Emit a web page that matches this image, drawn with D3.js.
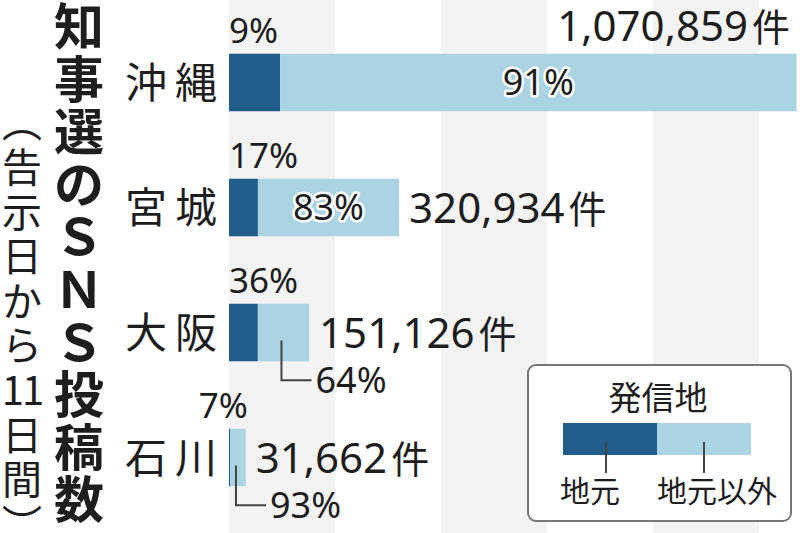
<!DOCTYPE html>
<html>
<head>
<meta charset="utf-8">
<script src="https://cdn.jsdelivr.net/npm/d3@7"></script>
<style>
  html, body { margin: 0; padding: 0; background: #fff; }
  text { font-family: "Noto Sans CJK JP", "Noto Sans", sans-serif; fill: #1e1e1e; }
  .num { font-family: "Noto Sans", "Noto Sans CJK JP", sans-serif; }
</style>
</head>
<body>
<div id="chart"></div>
<script>
// data
var prefectures = ["沖縄", "宮城", "大阪", "石川"];
var totals = [1070859, 320934, 151126, 31662];
var localPct = [9, 17, 36, 7];
var otherPct = [91, 83, 64, 93];
var gridTicks = [0, 200000, 400000, 600000, 800000, 1000000, 1200000];
var titleChars = ["知", "事", "選", "の", "Ｓ", "Ｎ", "Ｓ", "投", "稿", "数"];
var subChars = ["︵", "告", "示", "日", "か", "ら", "11", "日", "間", "︶"];
var legendKeys = ["地元", "地元以外"];

var width = 800, height = 533;
var dark = "#215d8a", light = "#abd4e2";

var svg = d3.select("#chart").append("svg")
  .attr("width", width)
  .attr("height", height);

var x = d3.scaleLinear().domain([0, 1000000]).range([229, 759]);
var y = d3.scaleBand().domain(prefectures)
  .range([20, 520]).paddingInner(0.54).paddingOuter(0.27);

// gray background bands
var bands = d3.pairs(gridTicks).filter(function(d, i) { return i % 2 === 0; });
svg.selectAll("rect.band").data(bands)
  .enter().append("rect")
  .attr("class", "band")
  .attr("x", function(d) { return x(d[0]); })
  .attr("width", function(d) { return Math.min(x(d[1]), width) - x(d[0]); })
  .attr("y", 0)
  .attr("height", height)
  .attr("fill", "#f3f3f3");

// rows
var rows = prefectures.map(function(p, i) {
  var local = totals[i] * localPct[i] / 100;
  return { name: p, total: totals[i], local: local, lp: localPct[i], op: otherPct[i] };
});

var g = svg.selectAll("g.row").data(rows).enter().append("g").attr("class", "row");

g.append("rect")
  .attr("x", x(0))
  .attr("y", function(d) { return y(d.name); })
  .attr("width", function(d) { return x(d.local) - x(0); })
  .attr("height", y.bandwidth())
  .attr("fill", dark);

g.append("rect")
  .attr("x", function(d) { return x(d.local); })
  .attr("y", function(d) { return y(d.name); })
  .attr("width", function(d) { return x(d.total) - x(d.local); })
  .attr("height", y.bandwidth())
  .attr("fill", light);

// category labels
g.append("text")
  .attr("x", 225)
  .attr("y", function(d) { return y(d.name) + y.bandwidth() / 2; })
  .attr("dy", "0.36em")
  .attr("text-anchor", "end")
  .attr("font-size", 42)
  .attr("letter-spacing", "8px")
  .text(function(d) { return d.name; });

// local share above the bar
g.append("text")
  .attr("class", "num")
  .attr("x", function(d) { return (x(d.total) - x(0) < 50) ? x(d.total) + 2 : x(0); })
  .attr("text-anchor", function(d) { return (x(d.total) - x(0) < 50) ? "end" : "start"; })
  .attr("y", function(d) { return y(d.name) - 11; })
  .attr("font-size", 35)
  .text(function(d) { return d.lp + "%"; });

// other share: inside if room, else with a leader line below
g.each(function(d) {
  var sel = d3.select(this);
  var x0 = x(d.local), x1 = x(d.total);
  var cy = y(d.name) + y.bandwidth() / 2;
  if (x1 - x0 > 100) {
    sel.append("text")
      .attr("class", "num")
      .attr("x", (x0 + x1) / 2)
      .attr("y", cy)
      .attr("dy", "0.36em")
      .attr("text-anchor", "middle")
      .attr("font-size", 36)
      .attr("stroke", "#fff")
      .attr("stroke-width", 5)
      .attr("stroke-linejoin", "round")
      .attr("paint-order", "stroke")
      .text(d.op + "%");
  } else {
    var lx = (x0 + x1) / 2 - 2;
    var ly = y(d.name) + y.bandwidth() + 19;
    sel.append("path")
      .attr("d", "M" + lx + "," + (cy + 8) + "V" + ly + "H" + (lx + 30))
      .attr("fill", "none")
      .attr("stroke", "#444")
      .attr("stroke-width", 2);
    sel.append("text")
      .attr("class", "num")
      .attr("x", lx + 34)
      .attr("y", ly)
      .attr("dy", "0.36em")
      .attr("font-size", 36)
      .text(d.op + "%");
  }
});

// totals
g.append("text")
  .attr("class", "num")
  .each(function(d) {
    var t = d3.select(this);
    var cy = y(d.name) + y.bandwidth() / 2;
    if (x(d.total) + 200 > width) {
      t.attr("x", 790).attr("y", y(d.name) - 13).attr("text-anchor", "end");
    } else {
      t.attr("x", x(d.total) + 10).attr("y", cy).attr("dy", "0.36em");
    }
  })
  .attr("font-size", 42)
  .text(function(d) { return d3.format(",")(d.total); })
  .append("tspan")
  .attr("font-family", "Noto Sans CJK JP")
  .attr("dx", 4)
  .attr("font-size", 38)
  .text("件");

// vertical title
svg.selectAll("text.title").data(titleChars)
  .enter().append("text")
  .attr("class", "title")
  .attr("x", 79)
  .attr("y", function(d, i) { return 27 + i * 52.6; })
  .attr("dy", "0.36em")
  .attr("text-anchor", "middle")
  .attr("font-size", 50)
  .attr("font-weight", 700)
  .text(function(d) { return d; });

svg.selectAll("text.sub").data(subChars)
  .enter().append("text")
  .attr("class", "sub")
  .attr("x", 22)
  .attr("y", function(d, i) { return 123 + i * 44.6; })
  .attr("dy", "0.36em")
  .attr("text-anchor", "middle")
  .attr("font-size", 40)
  .attr("letter-spacing", function(d) { return d.length > 1 ? "-2px" : null; })
  .text(function(d) { return d; });

// legend
var lg = svg.append("g");
lg.append("rect")
  .attr("x", 528).attr("y", 365)
  .attr("width", 263).attr("height", 156)
  .attr("rx", 8)
  .attr("fill", "#fff")
  .attr("stroke", "#777")
  .attr("stroke-width", 2);
lg.append("text")
  .attr("x", 658).attr("y", 398)
  .attr("dy", "0.36em")
  .attr("text-anchor", "middle")
  .attr("font-size", 33)
  .text("発信地");

var lx = d3.scaleBand().domain(legendKeys).range([563, 751]);
var lcol = d3.scaleOrdinal().domain(legendKeys).range([dark, light]);
lg.selectAll("rect.key").data(legendKeys)
  .enter().append("rect")
  .attr("class", "key")
  .attr("x", function(d) { return lx(d); })
  .attr("y", 423)
  .attr("width", lx.bandwidth())
  .attr("height", 32)
  .attr("fill", function(d) { return lcol(d); });
var tickX = [606, 704];
lg.selectAll("line.tick").data(legendKeys)
  .enter().append("line")
  .attr("x1", function(d, i) { return tickX[i]; })
  .attr("x2", function(d, i) { return tickX[i]; })
  .attr("y1", 442).attr("y2", 473)
  .attr("stroke", "#444")
  .attr("stroke-width", 2);
var labX = [590, 717];
lg.selectAll("text.key").data(legendKeys)
  .enter().append("text")
  .attr("class", "key")
  .attr("x", function(d, i) { return labX[i]; })
  .attr("y", 491)
  .attr("dy", "0.36em")
  .attr("text-anchor", "middle")
  .attr("font-size", 30)
  .text(function(d) { return d; });
</script>
</body>
</html>
